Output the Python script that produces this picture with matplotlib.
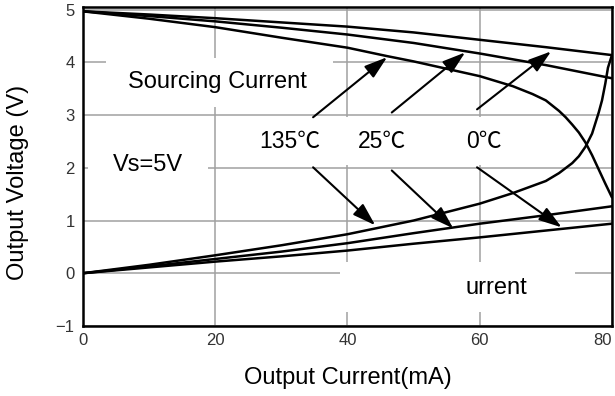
import matplotlib
matplotlib.use("Agg")
import matplotlib.pyplot as plt
from matplotlib.patches import Rectangle

plt.rcParams['font.family'] = ['Liberation Sans', 'Noto Sans CJK SC', 'DejaVu Sans']

# sourcing curves (output high)
src_x_0 = [0, 10, 20, 30, 40, 50, 60, 70, 80]
src_v_0 = [4.97, 4.91, 4.84, 4.76, 4.68, 4.57, 4.43, 4.29, 4.14]
src_x_25 = [0, 10, 20, 30, 40, 50, 60, 70, 80]
src_v_25 = [4.97, 4.88, 4.78, 4.66, 4.53, 4.37, 4.17, 3.95, 3.70]
src_x_135 = [0, 10, 20, 30, 40, 46, 50, 55, 60, 65, 68, 70, 71, 72, 73, 74, 75, 76, 77, 78, 79, 80]
src_v_135 = [4.97, 4.83, 4.67, 4.47, 4.28, 4.12, 4.02, 3.88, 3.74, 3.55, 3.4, 3.28, 3.18, 3.08,
             2.96, 2.82, 2.67, 2.48, 2.24, 1.97, 1.7, 1.44]

# sinking curves (output low)
snk_x_0 = [0, 10, 20, 30, 40, 50, 60, 70, 80]
snk_v_0 = [0, 0.11, 0.22, 0.32, 0.43, 0.56, 0.68, 0.81, 0.94]
snk_x_25 = [0, 10, 20, 30, 40, 50, 60, 70, 80]
snk_v_25 = [0, 0.13, 0.27, 0.41, 0.57, 0.76, 0.94, 1.10, 1.27]
snk_x_135 = [0, 10, 20, 30, 40, 50, 60, 65, 70, 72, 74, 75, 76, 77, 77.5, 78, 78.5, 79, 79.4, 80]
snk_v_135 = [0, 0.16, 0.34, 0.53, 0.74, 1.0, 1.32, 1.52, 1.75, 1.9, 2.09, 2.22, 2.4, 2.65,
             2.85, 3.05, 3.28, 3.6, 3.9, 4.14]

x_ticks = [0, 20, 40, 60, 80]
y_ticks = [-1, 0, 1, 2, 3, 4, 5]

temp_labels = ['135℃', '25℃', '0℃']
temp_label_x = [31.3, 45.2, 60.6]
up_start = [(34.8, 2.96), (46.7, 3.05), (59.6, 3.11)]
up_tip = [(46.0, 4.10), (57.8, 4.19), (70.8, 4.21)]
down_start = [(34.8, 2.01), (46.7, 1.95), (59.6, 2.01)]
down_tip = [(44.2, 0.91), (56.0, 0.85), (72.4, 0.87)]

fig = plt.figure(figsize=(6.15, 3.96), dpi=100)
ax = fig.add_axes([0.135, 0.177, 0.86, 0.805])

ax.set_xlim(0, 80)
ax.set_ylim(-1, 5.05)
ax.set_xticks(x_ticks)
ax.set_yticks(y_ticks)
ax.tick_params(length=0, labelsize=12, labelcolor='#333333')
ax.tick_params(axis='y', pad=6)
ax.tick_params(axis='x', pad=5)
ax.get_xticklabels()[-1].set_ha('right')
ax.set_axisbelow(True)
ax.grid(True, color='#a0a0a0', lw=1.1)
for s in ax.spines.values():
    s.set_linewidth(1.8)
    s.set_color('black')

# white patches behind the labels, they break the grid lines
for (x0, x1, y0, y1) in [(3.5, 37.8, 3.15, 4.08), (0.8, 18.9, 1.6, 2.4),
                         (25.0, 66.0, 2.05, 2.96), (38.9, 74.4, -0.74, 0.21)]:
    ax.add_patch(Rectangle((x0, y0), x1 - x0, y1 - y0, color='white', lw=0, zorder=1))

for xs, vs in [(src_x_0, src_v_0), (src_x_25, src_v_25), (src_x_135, src_v_135),
               (snk_x_0, snk_v_0), (snk_x_25, snk_v_25), (snk_x_135, snk_v_135)]:
    ax.plot(xs, vs, color='black', lw=1.8, zorder=2, solid_capstyle='round',
            solid_joinstyle='round')

aprops = dict(arrowstyle='-|>,head_length=1.4,head_width=0.45', mutation_scale=10,
              lw=1.5, color='black', shrinkA=0, shrinkB=0)
for a, b in zip(up_start + down_start, up_tip + down_tip):
    ax.annotate('', xy=b, xytext=a, arrowprops=aprops, zorder=3)

for lab, x in zip(temp_labels, temp_label_x):
    ax.text(x, 2.5, lab, fontsize=16.5, ha='center', va='center', zorder=3)

ax.text(20.4, 3.62, 'Sourcing Current', fontsize=17, ha='center', va='center', zorder=3)
ax.text(9.8, 2.05, 'Vs=5V', fontsize=17, ha='center', va='center', zorder=3)
ax.text(62.5, -0.28, 'urrent', fontsize=17, ha='center', va='center', zorder=3)

fig.text(348 / 615, 1 - 378 / 396, 'Output Current(mA)', fontsize=17, ha='center', va='center')
fig.text(18 / 615, 1 - 182 / 396, 'Output Voltage (V)', fontsize=17, ha='center', va='center',
         rotation=90)

fig.savefig('out.png', dpi=100)
